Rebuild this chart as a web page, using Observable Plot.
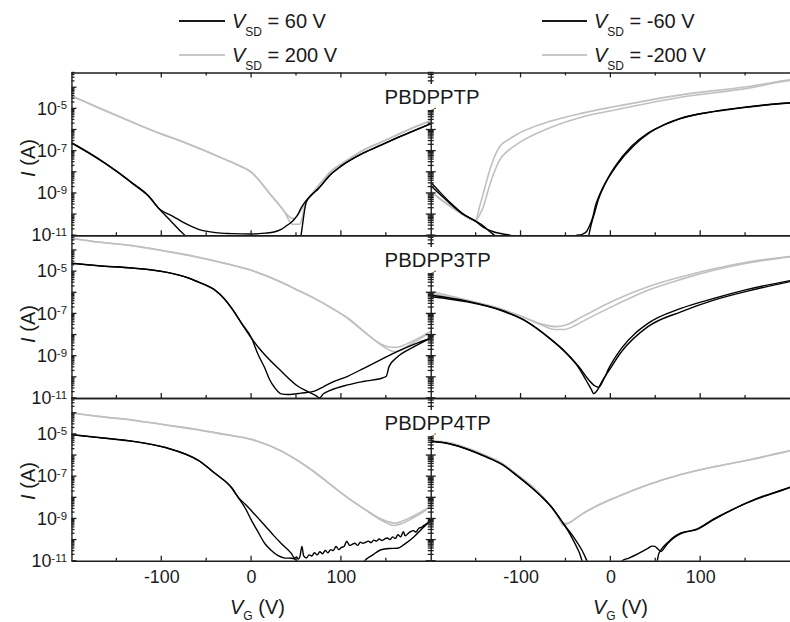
<!DOCTYPE html>
<html>
<head>
<meta charset="utf-8">
<script src="https://cdn.jsdelivr.net/npm/d3@7"></script>
<script src="https://cdn.jsdelivr.net/npm/@observablehq/plot@0.6"></script>
<style>
html, body { margin: 0; padding: 0; overflow: hidden; background: #fff; }
#fig { position: relative; width: 790px; height: 622px; overflow: hidden;
       font-family: Arial, "Liberation Sans", Helvetica, sans-serif; color: #1a1a1a; }
#fig svg { position: absolute; left: 0; top: 0; }
.abs { position: absolute; white-space: nowrap; font-size: 20px; line-height: 20px; }
.abs sub { font-size: 12px; vertical-align: -8px; line-height: 0; }
.xt sub { vertical-align: -6px; }
.ln { position: absolute; height: 2px; }
.rot { transform: translate(-50%, -50%) rotate(-90deg); }
</style>
</head>
<body>
<div id="fig"></div>
<script>
// ---------- categories, domains, ticks ----------
const POLYMERS = ["PBDPPTP", "PBDPP3TP", "PBDPP4TP"];
const SIDES = ["p", "n"];                 // left column: positive V_SD, right column: negative V_SD
const LEGEND_P = ["60", "200"];
const LEGEND_N = ["-60", "-200"];
const X_DOMAIN = [-200, 200];
const Y_DOMAIN = [1e-11, 5e-4];
const X_MAJOR = [-100, 0, 100];
const X_MINOR = [-150, -50, 50, 150];
const Y_DECADES = [1e-11, 1e-10, 1e-9, 1e-8, 1e-7, 1e-6, 1e-5, 1e-4];
const Y_LABELED = [1e-11, 1e-9, 1e-7, 1e-5];
const MINOR_MULT = [2, 3, 4, 5, 6, 7, 8, 9];

// ---------- data: [V_G (V), I (A)] ----------
// PBDPPTP, V_SD = 200 V
const ptp_p200_a = [[-200,4.1e-5],[-170,1.12e-5],[-140,3.2e-6],[-103,7.2e-7],[-80,3.2e-7],[-59,1.4e-7],[-30,4.2e-8],[-15,2.2e-8],[0,1.0e-8],[10,3.5e-9],[22,7.9e-10],[30,3.2e-10],[37,1.32e-10],[42,7.9e-11],[46,6.5e-11],[50,7.9e-11],[55,1.6e-10],[60,3.5e-10],[65,7.1e-10],[73.6,2.2e-9],[80,4.5e-9],[88,1.12e-8],[100,2.5e-8],[125,1.17e-7],[145,2.8e-7],[162,6.0e-7],[180,1.32e-6],[200,2.9e-6]];
const ptp_p200_b = [[-200,4.0e-5],[-170,1.1e-5],[-140,3.1e-6],[-103,7.0e-7],[-80,3.1e-7],[-59,1.38e-7],[-30,4.1e-8],[-15,2.15e-8],[0,9.8e-9],[10,3.4e-9],[22,7.7e-10],[30,3.1e-10],[37,1.26e-10],[42,5.0e-11],[45,3.5e-11],[54,3.5e-11],[56,6.3e-11],[58,1.6e-10],[61,4.0e-10],[66,7.9e-10],[73.6,2.0e-9],[80,4.2e-9],[88,1.05e-8],[100,2.4e-8],[125,1.12e-7],[145,2.7e-7],[162,5.75e-7],[180,1.26e-6],[200,2.75e-6]];
// PBDPPTP, V_SD = 60 V
const ptp_p60_a = [[-200,2.45e-7],[-185,1.05e-7],[-169,4.0e-8],[-150,1.12e-8],[-133,3.2e-9],[-115,7.9e-10],[-103,1.9e-10],[-90,5.0e-11],[-80,1.78e-11],[-74,1.0e-11],[-65,2.5e-12],[53,2.5e-12],[55,1.0e-11],[57,4.0e-11],[59,1.6e-10],[61,4.0e-10],[66,7.9e-10],[73.7,1.55e-9],[88,7.8e-9],[100,2.0e-8],[125,8.3e-8],[145,2.0e-7],[162,4.2e-7],[180,8.9e-7],[200,2.0e-6]];
const ptp_p60_b = [[-200,2.35e-7],[-185,1.0e-7],[-169,3.8e-8],[-150,1.07e-8],[-133,3.0e-9],[-115,7.6e-10],[-103,1.9e-10],[-88,8.5e-11],[-75,4.0e-11],[-59,2.0e-11],[-40,1.4e-11],[-22,1.26e-11],[0,1.2e-11],[15,1.32e-11],[25,1.5e-11],[33,2.0e-11],[40,3.2e-11],[44,4.2e-11],[48,6.3e-11],[51.6,1.02e-10],[55,2.0e-10],[58.8,3.6e-10],[66,7.9e-10],[73.7,1.6e-9],[88,7.9e-9],[100,2.0e-8],[125,8.5e-8],[145,2.05e-7],[162,4.3e-7],[180,9.1e-7],[200,2.05e-6]];
// PBDPPTP, V_SD = -200 V
const ptp_n200_a = [[-200,1.29e-9],[-190,5.6e-10],[-178.6,2.5e-10],[-165,1.05e-10],[-157,6.3e-11],[-151,5.0e-11],[-146,2.5e-10],[-141.8,1.07e-9],[-136.3,7.9e-9],[-130.8,4.0e-8],[-123.5,1.7e-7],[-115,3.3e-7],[-105.2,6.0e-7],[-68.6,2.5e-6],[-31.9,6.3e-6],[4.7,1.29e-5],[78,4.6e-5],[151.3,1.12e-4],[191.5,2.1e-4],[200,2.4e-4]];
const ptp_n200_b = [[-200,1.2e-9],[-190,5.2e-10],[-178.6,2.4e-10],[-165,1.0e-10],[-157,6.3e-11],[-151,5.0e-11],[-146,1.0e-10],[-141.8,2.5e-10],[-136.3,1.58e-9],[-130.8,7.9e-9],[-123.5,4.0e-8],[-115,1.0e-7],[-105.2,2.05e-7],[-68.6,1.23e-6],[-31.9,4.1e-6],[4.7,8.9e-6],[78,3.55e-5],[151.3,9.3e-5],[191.5,1.95e-4],[200,2.24e-4]];
// PBDPPTP, V_SD = -60 V
const ptp_n60_a = [[-200,3.2e-9],[-190,1.12e-9],[-178.6,3.6e-10],[-165,1.12e-10],[-151,5.0e-11],[-141.8,2.9e-11],[-135,1.58e-11],[-129,1.0e-11],[-120,4.0e-12],[-50,4.0e-12],[-39.2,1.0e-11],[-32,1.17e-11],[-27,1.58e-11],[-24,2.8e-11],[-20,7.9e-11],[-17.3,2.5e-10],[-14,6.3e-10],[-9.9,1.55e-9],[-3,5.6e-9],[4.7,1.9e-8],[23,1.7e-7],[41.3,7.2e-7],[60,1.78e-6],[78,3.6e-6],[114.6,7.4e-6],[151,1.2e-5],[188,1.74e-5],[200,1.9e-5]];
const ptp_n60_b = [[-200,2.2e-9],[-190,8.9e-10],[-178.6,3.2e-10],[-165,1.05e-10],[-151,5.0e-11],[-141.8,2.45e-11],[-130,1.5e-11],[-120,1.2e-11],[-110.6,1.0e-11],[-100,5.0e-12],[-26,5.0e-12],[-24.6,1.0e-11],[-22,3.2e-11],[-18,1.26e-10],[-14,5.0e-10],[-7,2.5e-9],[7,2.24e-8],[26,1.9e-7],[44,7.9e-7],[60,1.86e-6],[80,3.7e-6],[115,7.6e-6],[151,1.23e-5],[188,1.78e-5],[200,1.95e-5]];

// PBDPP3TP, V_SD = 200 V
const p3t_p200_a = [[-200,3.8e-4],[-170,2.5e-4],[-132.6,1.7e-4],[-100,1.0e-4],[-58.9,4.8e-5],[-30,2.5e-5],[0,1.15e-5],[33,3.2e-6],[50,1.41e-6],[70,5.4e-7],[90,1.78e-7],[107,6.2e-8],[125,1.45e-8],[143.6,3.5e-9],[152,2.1e-9],[158,1.66e-9],[166,1.9e-9],[175,3.2e-9],[190,7.9e-9],[200,1.5e-8]];
const p3t_p200_b = [[-200,3.7e-4],[-170,2.45e-4],[-132.6,1.68e-4],[-100,9.9e-5],[-58.9,4.7e-5],[-30,2.45e-5],[0,1.13e-5],[33,3.15e-6],[50,1.4e-6],[70,5.4e-7],[90,1.8e-7],[107,6.4e-8],[125,1.5e-8],[143.6,3.8e-9],[152,2.8e-9],[160,2.6e-9],[166,2.9e-9],[175,4.2e-9],[190,8.9e-9],[200,1.58e-8]];
// PBDPP3TP, V_SD = 60 V
const p3t_p60_a = [[-200,2.5e-5],[-170,1.9e-5],[-132.6,1.48e-5],[-95.7,9.5e-6],[-70,5.0e-6],[-59,3.2e-6],[-48,2.0e-6],[-40.5,1.32e-6],[-30,5.0e-7],[-22,1.82e-7],[-11,3.55e-8],[0,7.1e-9],[7,1.26e-9],[14.7,2.75e-10],[20,7.9e-11],[25.8,3.2e-11],[33,1.66e-11],[40.5,1.55e-11],[55,1.78e-11],[70,2.24e-11],[80,3.55e-11],[88.4,5.5e-11],[107,1.12e-10],[125.5,2.75e-10],[144,6.8e-10],[162,1.66e-9],[180,3.55e-9],[200,7.4e-9]];
const p3t_p60_b = [[-200,2.45e-5],[-170,1.88e-5],[-132.6,1.46e-5],[-95.7,9.4e-6],[-70,4.9e-6],[-59,3.15e-6],[-48,1.98e-6],[-40.5,1.3e-6],[-30,4.9e-7],[-22,1.8e-7],[-11,3.5e-8],[0,7.0e-9],[7,2.8e-9],[14.7,1.17e-9],[33,1.95e-10],[51.6,3.8e-11],[65,1.9e-11],[72,1.32e-11],[75.6,1.07e-11],[80,1.66e-11],[88.4,2.5e-11],[107,4.4e-11],[125.5,6.5e-11],[145.5,9.3e-11],[150,1.12e-10],[153,3.2e-10],[162,8.9e-10],[180.5,2.75e-9],[200,7.4e-9]];
// PBDPP3TP, V_SD = -200 V
const p3t_n200_a = [[-200,1.17e-6],[-160,4.5e-7],[-123.5,1.82e-7],[-94,6.2e-8],[-75.8,3.2e-8],[-61.2,2.5e-8],[-50,3.0e-8],[-31.9,7.4e-8],[4.7,4.5e-7],[41.3,1.9e-6],[78,5.6e-6],[114.6,1.38e-5],[151,2.8e-5],[191.5,4.8e-5],[200,5.2e-5]];
const p3t_n200_b = [[-200,9.1e-7],[-160,4.2e-7],[-123.5,1.74e-7],[-94,6.0e-8],[-75.8,2.8e-8],[-61.2,1.82e-8],[-52,1.82e-8],[-40,2.8e-8],[-31.9,4.3e-8],[4.7,2.6e-7],[41.3,1.32e-6],[78,4.3e-6],[114.6,1.15e-5],[151,2.5e-5],[191.5,4.5e-5],[200,5.0e-5]];
// PBDPP3TP, V_SD = -60 V
const p3t_n60_a = [[-200,6.5e-7],[-160,3.7e-7],[-123.5,1.51e-7],[-94,4.3e-8],[-68.6,7.1e-9],[-50,1.41e-9],[-35.6,2.75e-10],[-28,7.9e-11],[-22,2.8e-11],[-19,1.7e-11],[-15,2.5e-11],[-10,6.3e-11],[-2.6,1.95e-10],[12,1.66e-9],[41.3,2.5e-8],[78,1.26e-7],[114.6,4.5e-7],[151,1.17e-6],[200,3.4e-6]];
const p3t_n60_b = [[-200,7.6e-7],[-160,4.0e-7],[-123.5,1.58e-7],[-94,4.5e-8],[-68.6,7.4e-9],[-50,1.51e-9],[-35.6,3.2e-10],[-25,7.9e-11],[-18,4.0e-11],[-13.6,3.4e-11],[-8,7.9e-11],[-2.6,2.5e-10],[12,2.4e-9],[41.3,3.55e-8],[78,1.82e-7],[114.6,5.4e-7],[151,1.41e-6],[200,3.8e-6]];

// PBDPP4TP, V_SD = 200 V
const p4t_p200_a = [[-200,1.05e-4],[-170,7.1e-5],[-132.6,4.8e-5],[-100,3.0e-5],[-59,1.66e-5],[-30,1.0e-5],[0,5.8e-6],[33,1.66e-6],[50,6.3e-7],[70,1.66e-7],[90,3.55e-8],[107,1.0e-8],[125.5,2.9e-9],[144,8.9e-10],[152,6.0e-10],[158.5,4.9e-10],[165,5.6e-10],[180.6,1.17e-9],[190,2.0e-9],[200,4.1e-9]];
const p4t_p200_b = [[-200,1.03e-4],[-170,7.0e-5],[-132.6,4.7e-5],[-100,2.95e-5],[-59,1.63e-5],[-30,9.8e-6],[0,5.7e-6],[33,1.64e-6],[50,6.2e-7],[70,1.66e-7],[90,3.6e-8],[107,1.02e-8],[125.5,3.0e-9],[144,1.0e-9],[152,7.4e-10],[160,6.3e-10],[168,7.9e-10],[180.6,1.41e-9],[200,4.1e-9]];
// PBDPP4TP, V_SD = 60 V
const p4t_p60_a = [[-200,9.8e-6],[-170,7.1e-6],[-132.6,4.8e-6],[-95.7,2.4e-6],[-59,5.8e-7],[-40.5,1.41e-7],[-22,2.9e-8],[-14.6,1.0e-8],[-7,3.2e-9],[0,8.3e-10],[7,2.5e-10],[14.7,6.9e-11],[22,3.2e-11],[29.5,1.82e-11],[37,1.41e-11],[45,1.38e-11],[50,1.12e-11],[55,4.0e-12],[120,4.0e-12],[125.5,1.0e-11],[135,2.0e-11],[144,3.5e-11],[153,4.0e-11],[162.5,4.1e-11],[170,6.3e-11],[180.6,1.41e-10],[190,3.55e-10],[200,8.9e-10]];
const p4t_p60_b = [[-200,9.5e-6],[-170,7.0e-6],[-132.6,4.7e-6],[-95.7,2.35e-6],[-59,5.7e-7],[-40.5,1.4e-7],[-22,2.9e-8],[-14.6,1.0e-8],[-7,5.0e-9],[0,2.4e-9],[14.7,4.9e-10],[25,1.58e-10],[33,6.9e-11],[44,2.4e-11],[48,1.41e-11],[50,1.58e-11],[52,1.26e-11],[54,1.78e-11],[56,5.0e-11],[58,1.78e-11],[61,1.41e-11],[64,2.0e-11],[67,1.78e-11],[70,2.5e-11],[73,2.0e-11],[76,2.8e-11],[79,2.24e-11],[82,3.2e-11],[85,2.5e-11],[88,3.55e-11],[91,3.2e-11],[94,5.0e-11],[97,3.55e-11],[100,4.5e-11],[103,5.0e-11],[106,8.9e-11],[109,5.6e-11],[112,6.3e-11],[115,7.1e-11],[118,5.6e-11],[121,7.9e-11],[124,7.1e-11],[127,7.9e-11],[130,8.9e-11],[133,7.6e-11],[136,1.0e-10],[139,8.9e-11],[142,1.12e-10],[145,9.5e-11],[148,1.12e-10],[151,1.26e-10],[154,1.05e-10],[157,1.41e-10],[160,1.2e-10],[163,1.78e-10],[166,1.41e-10],[169,2.5e-10],[171,1.58e-10],[174,2.0e-10],[177,2.5e-10],[180,2.8e-10],[183,2.4e-10],[186,3.55e-10],[189,4.0e-10],[192,5.0e-10],[195,6.0e-10],[198,7.6e-10],[200,8.9e-10]];
// PBDPP4TP, V_SD = -200 V
const p4t_n200_a = [[-200,5.0e-6],[-179,4.0e-6],[-160,2.24e-6],[-141.8,1.12e-6],[-120,4.0e-7],[-105,1.32e-7],[-90,4.2e-8],[-75.8,1.12e-8],[-65,3.2e-9],[-58,1.12e-9],[-53,4.9e-10],[-45,7.1e-10],[-31.9,1.7e-9],[-15,4.2e-9],[4.7,1.0e-8],[41.3,4.1e-8],[78,1.26e-7],[114.6,2.9e-7],[151,5.8e-7],[191.5,1.41e-6],[200,1.7e-6]];
const p4t_n200_b = [[-200,4.9e-6],[-179,3.9e-6],[-160,2.2e-6],[-141.8,1.1e-6],[-120,3.9e-7],[-105,1.3e-7],[-90,4.1e-8],[-75.8,1.1e-8],[-65,3.1e-9],[-58,1.1e-9],[-53,6.3e-10],[-48,6.3e-10],[-40,1.0e-9],[-31.9,1.75e-9],[-15,4.3e-9],[4.7,1.02e-8],[41.3,4.15e-8],[78,1.27e-7],[114.6,2.9e-7],[151,5.8e-7],[191.5,1.41e-6],[200,1.7e-6]];
// PBDPP4TP, V_SD = -60 V
const p4t_n60_a = [[-200,4.8e-6],[-179,3.55e-6],[-160,2.0e-6],[-141.8,9.8e-7],[-120,3.55e-7],[-105,1.17e-7],[-90,3.55e-8],[-75.8,1.0e-8],[-65,3.2e-9],[-53.8,6.9e-10],[-45,1.78e-10],[-39.2,5.9e-11],[-35,2.5e-11],[-31.9,1.0e-11],[-28,4.0e-12],[5,4.0e-12],[12,1.0e-11],[20,1.41e-11],[30,2.24e-11],[41.3,4.1e-11],[46,5.2e-11],[49,5.0e-11],[53,3.55e-11],[56,2.9e-11],[60,4.5e-11],[63.3,6.9e-11],[70,1.26e-10],[78,2.0e-10],[96.3,3.4e-10],[114.6,1.0e-9],[133,2.5e-9],[151,5.8e-9],[171,1.26e-8],[191.5,2.4e-8],[200,3.2e-8]];
const p4t_n60_b = [[-200,4.7e-6],[-179,3.5e-6],[-160,1.98e-6],[-141.8,9.6e-7],[-120,3.5e-7],[-105,1.15e-7],[-90,3.5e-8],[-75.8,9.9e-9],[-65,3.2e-9],[-53.8,6.9e-10],[-45,2.24e-10],[-39.2,1.0e-10],[-32,3.2e-11],[-26.4,1.0e-11],[-22,4.0e-12],[50,4.0e-12],[51.6,1.0e-11],[53,2.0e-11],[56,3.55e-11],[63.3,7.6e-11],[70,1.41e-10],[78,2.2e-10],[96.3,3.2e-10],[114.6,9.3e-10],[151,5.6e-9],[191.5,2.34e-8],[200,3.1e-8]];

// ---------- table built from the arrays ----------
const SERIES = [
  ["PBDPPTP","p",200,"a",ptp_p200_a],["PBDPPTP","p",200,"b",ptp_p200_b],
  ["PBDPPTP","p",60,"a",ptp_p60_a],["PBDPPTP","p",60,"b",ptp_p60_b],
  ["PBDPPTP","n",-200,"a",ptp_n200_a],["PBDPPTP","n",-200,"b",ptp_n200_b],
  ["PBDPPTP","n",-60,"a",ptp_n60_a],["PBDPPTP","n",-60,"b",ptp_n60_b],
  ["PBDPP3TP","p",200,"a",p3t_p200_a],["PBDPP3TP","p",200,"b",p3t_p200_b],
  ["PBDPP3TP","p",60,"a",p3t_p60_a],["PBDPP3TP","p",60,"b",p3t_p60_b],
  ["PBDPP3TP","n",-200,"a",p3t_n200_a],["PBDPP3TP","n",-200,"b",p3t_n200_b],
  ["PBDPP3TP","n",-60,"a",p3t_n60_a],["PBDPP3TP","n",-60,"b",p3t_n60_b],
  ["PBDPP4TP","p",200,"a",p4t_p200_a],["PBDPP4TP","p",200,"b",p4t_p200_b],
  ["PBDPP4TP","p",60,"a",p4t_p60_a],["PBDPP4TP","p",60,"b",p4t_p60_b],
  ["PBDPP4TP","n",-200,"a",p4t_n200_a],["PBDPP4TP","n",-200,"b",p4t_n200_b],
  ["PBDPP4TP","n",-60,"a",p4t_n60_a],["PBDPP4TP","n",-60,"b",p4t_n60_b]
];
const rows = SERIES.flatMap(([polymer, side, vsd, sweep, pts]) =>
  pts.map(([V, I]) => ({polymer, side, vsd, key: `${polymer}|${side}|${vsd}|${sweep}`, V, I})));
const highBias = rows.filter(d => Math.abs(d.vsd) === 200);
const lowBias = rows.filter(d => Math.abs(d.vsd) === 60);
const Y_MINOR = Y_DECADES.flatMap(d => MINOR_MULT.map(m => m * d)).filter(v => v <= Y_DOMAIN[1]);

// ---------- layout ----------
const WIDTH = 796, HEIGHT = 622, ML = 72, MR = 0, MT = 73, MB = 57;
const AX = "#1e1e1e";
const GRAY = "#c0c0c0";
const MAJ = 5, MIN = 3;

const chart = Plot.plot({
  width: WIDTH, height: HEIGHT,
  marginLeft: ML, marginRight: MR, marginTop: MT, marginBottom: MB,
  style: {fontFamily: 'Arial, "Liberation Sans", Helvetica, sans-serif', fontSize: "18px", color: "#1a1a1a", background: "transparent"},
  x: {domain: X_DOMAIN},
  y: {type: "log", domain: Y_DOMAIN},
  fx: {domain: SIDES, padding: 0, axis: null},
  fy: {domain: POLYMERS, padding: 0, axis: null},
  marks: [
    Plot.line(highBias, {x: "V", y: "I", z: "key", fx: "side", fy: "polymer", stroke: GRAY, strokeWidth: 1.6, curve: "monotone-x", clip: true}),
    Plot.line(lowBias, {x: "V", y: "I", z: "key", fx: "side", fy: "polymer", stroke: "#000", strokeWidth: 1.4, curve: "monotone-x", clip: true}),
    // panel borders
    Plot.ruleY(Y_DOMAIN, {stroke: AX, strokeWidth: 1.4}),
    Plot.ruleX([X_DOMAIN[0]], {stroke: AX, strokeWidth: 1.4}),
    // tick labels
    Plot.axisX(X_MAJOR, {anchor: "bottom", tickSize: 0, tickPadding: 9, tickFormat: d => String(d), label: null, fontSize: 18, fill: "#1a1a1a"}),
    Plot.axisY(Y_LABELED, {anchor: "left", tickSize: 0, tickPadding: 5, tickFormat: d => `10^${Math.round(Math.log10(d))}`, label: null, fontSize: 18, fill: "#1a1a1a"}),
    // polymer names
    Plot.text(POLYMERS, {text: d => d, fy: d => d, fx: () => "p", frameAnchor: "top-right", textAnchor: "start", lineAnchor: "middle",
      dx: -47, dy: 25, fontSize: 20.5, fill: "#1a1a1a", stroke: "white", strokeWidth: 12})
  ]
});

// ---------- tick marks: short strokes placed with the chart's own scales ----------
const NS = "http://www.w3.org/2000/svg";
{
  const sx = chart.scale("x"), sy = chart.scale("y"), sfx = chart.scale("fx"), sfy = chart.scale("fy");
  const g = document.createElementNS(NS, "g");
  g.setAttribute("stroke", AX);
  g.setAttribute("stroke-width", "1.3");
  g.setAttribute("aria-label", "ticks");
  const seg = (x1, y1, x2, y2) => {
    const l = document.createElementNS(NS, "line");
    l.setAttribute("x1", x1); l.setAttribute("y1", y1);
    l.setAttribute("x2", x2); l.setAttribute("y2", y2);
    g.appendChild(l);
  };
  const yTop = sy.apply(Y_DOMAIN[1]), yBot = sy.apply(Y_DOMAIN[0]);
  const xLeft = sx.apply(X_DOMAIN[0]);
  const ticksX = [...X_MAJOR.map(v => [v, MAJ]), ...X_MINOR.map(v => [v, MIN])];
  const ticksY = [...Y_DECADES.map(v => [v, MAJ]), ...Y_MINOR.map(v => [v, MIN])];
  SIDES.forEach((s, si) => POLYMERS.forEach((p, pi) => {
    // offset of this facet relative to the positions reported by the x/y scales
    const ox = sfx.apply(s) - xLeft, oy = sfy.apply(p) - yTop;
    for (const [v, len] of ticksX) {
      const X = sx.apply(v) + ox;
      seg(X, yBot + oy, X, yBot + oy - len);                 // bottom, inward
      if (pi === 0) seg(X, yTop + oy, X, yTop + oy + len);   // top of first row, inward
    }
    for (const [v, len] of ticksY) {
      const Y = sy.apply(v) + oy;
      const X0 = xLeft + ox;
      if (si === 0) seg(X0, Y, X0 + len, Y);                 // left column: inward
      else seg(X0 - len, Y, X0 + len, Y);                    // right column: both sides
    }
  }));
  // ticks go beneath the polymer labels so the labels' white halo covers them
  const labels = chart.querySelector('[aria-label="text"]');
  chart.insertBefore(g, labels);
}

// superscript exponents on the y tick labels
chart.querySelectorAll("text").forEach(t => {
  const m = t.textContent.match(/^10\^(-?\d+)$/);
  if (m) {
    t.textContent = "10";
    const ts = document.createElementNS(NS, "tspan");
    ts.setAttribute("dy", "-0.45em");
    ts.setAttribute("font-size", "11.5px");
    ts.textContent = m[1];
    t.appendChild(ts);
  }
});

const fig = document.getElementById("fig");
fig.appendChild(chart);

// ---------- legend and axis titles (HTML overlay) ----------
function addLegend(x0, textX, top, lineColor, value) {
  const ln = document.createElement("div");
  ln.className = "ln";
  ln.style.cssText = `left:${x0}px;top:${top + 8.5}px;width:${textX - x0 - 7}px;background:${lineColor}`;
  fig.appendChild(ln);
  const tx = document.createElement("div");
  tx.className = "abs";
  tx.style.left = textX + "px";
  tx.style.top = top + "px";
  tx.innerHTML = `<i>V</i><sub>SD</sub> = ${value} V`;
  fig.appendChild(tx);
}
addLegend(179, 232, 11, "#1a1a1a", LEGEND_P[0]);
addLegend(179, 232, 45, "#c8c8c8", LEGEND_P[1]);
addLegend(542, 594, 11, "#1a1a1a", LEGEND_N[0]);
addLegend(542, 594, 45, "#c8c8c8", LEGEND_N[1]);

[158, 324, 481].forEach(cy => {
  const d = document.createElement("div");
  d.className = "abs rot";
  d.style.left = "28px";
  d.style.top = cy + "px";
  d.innerHTML = "<i>I</i> (A)";
  fig.appendChild(d);
});
[230, 593].forEach(x => {
  const d = document.createElement("div");
  d.className = "abs xt";
  d.style.left = x + "px";
  d.style.top = "597px";
  d.innerHTML = "<i>V</i><sub>G</sub> (V)";
  fig.appendChild(d);
});
</script>
</body>
</html>
